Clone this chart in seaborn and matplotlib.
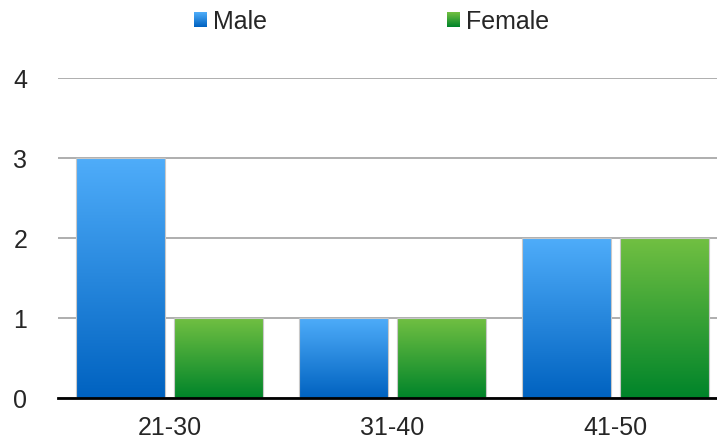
import numpy as np
import pandas as pd
import matplotlib
matplotlib.use("Agg")
import matplotlib.pyplot as plt
import seaborn as sns
from matplotlib.colors import to_rgb
from matplotlib.patches import Patch
from matplotlib.legend_handler import HandlerBase
from matplotlib.image import BboxImage
from matplotlib.transforms import Bbox, TransformedBbox

# data
age_groups = ["21-30", "31-40", "41-50"]
male_counts = [3, 1, 2]
female_counts = [1, 1, 2]
genders = ["Male", "Female"]

# gradient colours (top, bottom)
grad = {
    "Male": ("#4FADFA", "#0062C0"),
    "Female": ("#72C042", "#00842A"),
}

df = pd.DataFrame({
    "age": age_groups * 2,
    "count": male_counts + female_counts,
    "gender": ["Male"] * 3 + ["Female"] * 3,
})

sns.set_style("white")
plt.rcParams["font.family"] = ["Liberation Sans", "DejaVu Sans"]


def gradient_img(top, bottom, n=256):
    t = np.linspace(0, 1, n)[:, None, None]
    a = np.array(to_rgb(top))[None, None, :]
    b = np.array(to_rgb(bottom))[None, None, :]
    return a * (1 - t) + b * t


fig = plt.figure(figsize=(7.17, 4.44), dpi=100)
ax = fig.add_axes([58 / 717, 46 / 444, 659 / 717, 320 / 444])

palette = {"Male": grad["Male"][1], "Female": grad["Female"][1]}
sns.barplot(data=df, x="age", y="count", hue="gender", hue_order=genders,
            palette=palette, width=0.88, gap=0.09, ax=ax, legend=False,
            saturation=1)

# swap flat fills for vertical gradients
bars = list(ax.patches)
for i, p in enumerate(bars):
    g = genders[i // 3]
    x0, y0 = p.get_x(), p.get_y()
    w, h = p.get_width(), p.get_height()
    img = ax.imshow(gradient_img(*grad[g]), extent=(x0, x0 + w, y0, y0 + h),
                    origin="upper", aspect="auto", zorder=2)
    img.set_clip_path(p)
    p.set_facecolor("none")
    p.set_edgecolor("#C8C8C8")
    p.set_linewidth(0.8)
    p.set_zorder(3)

ax.set_xlim(-0.5, 2.455)
ax.set_ylim(0, 4)
ax.set_yticks([0, 1, 2, 3, 4])
ax.yaxis.grid(True, color="#A8A8A8", linewidth=1.3)
ax.set_axisbelow(True)
for s in ["left", "right", "top"]:
    ax.spines[s].set_visible(False)
ax.spines["bottom"].set_color("black")
ax.spines["bottom"].set_linewidth(2)
ax.spines["bottom"].set_zorder(4)
ax.tick_params(axis="y", length=0, pad=22, labelsize=18)
ax.tick_params(axis="x", length=0, pad=13, labelsize=18)
ax.set_xlabel("")
ax.set_ylabel("")


class GradHandler(HandlerBase):
    # little gradient square for the legend
    def create_artists(self, legend, orig, xd, yd, width, height, fontsize, trans):
        g = orig.get_label()
        bb = Bbox.from_bounds(-xd, -yd, width, height)
        im = BboxImage(TransformedBbox(bb, trans))
        im.set_data(gradient_img(*grad[g], n=32))
        return [im]


handles = [Patch(label=g) for g in genders]
fig.legend(handles=handles, labels=genders, loc="center",
           bbox_to_anchor=(0.518, 0.95), ncol=2, frameon=False, fontsize=18,
           handlelength=0.5, handleheight=0.5, handletextpad=0.25,
           columnspacing=7.2, handler_map={Patch: GradHandler()})

fig.savefig("out.png", dpi=100)
